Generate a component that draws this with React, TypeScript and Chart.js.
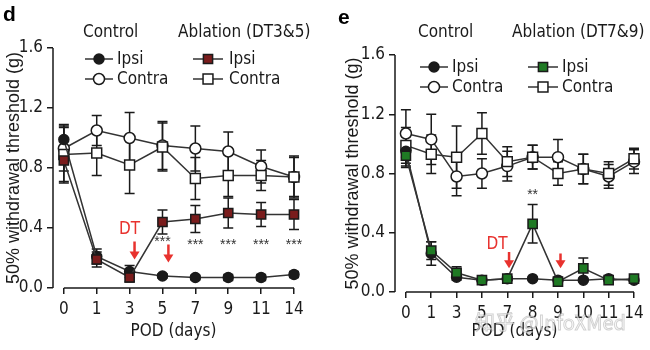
import React, { useEffect, useRef } from 'react';
import { Chart, registerables } from 'chart.js';
Chart.register(...registerables);

const NARROW = "'Liberation Sans Narrow', 'Arial Narrow', 'DejaVu Sans Condensed', sans-serif";
const REG = "'Liberation Sans', Arial, sans-serif";

// ---------- Panel d data ----------
const categoriesD = ['0', '1', '3', '5', '7', '9', '11', '14'];
const ctrlIpsiD = [0.99, 0.21, 0.11, 0.08, 0.07, 0.07, 0.07, 0.09];
const ctrlIpsiErrD = [0.1, 0.05, 0.04, 0.015, 0.015, 0.02, 0.02, 0.02];
const ctrlContraD = [0.93, 1.05, 1.0, 0.95, 0.93, 0.91, 0.81, 0.74];
const ctrlContraErrD = [0.15, 0.1, 0.17, 0.16, 0.15, 0.13, 0.11, 0.14];
const ablIpsiD = [0.85, 0.19, 0.07, 0.44, 0.46, 0.5, 0.49, 0.49];
const ablIpsiErrD = [0.15, 0.05, 0.03, 0.08, 0.09, 0.1, 0.08, 0.1];
const ablContraD = [0.89, 0.9, 0.82, 0.94, 0.73, 0.75, 0.75, 0.74];
const ablContraErrD = [0.18, 0.15, 0.19, 0.16, 0.14, 0.14, 0.1, 0.13];
const starsXD = [3, 4, 5, 6, 7];
const starsYD = [0.32, 0.3, 0.3, 0.3, 0.3];
const starsTextD = ['***', '***', '***', '***', '***'];
const dtLabelD = { x: 2.0, y: 0.39 };
const arrowsXD = [2.15, 3.18];
const arrowsTopD = [0.31, 0.29];
const arrowsBottomD = [0.19, 0.17];

// ---------- Panel e data ----------
const categoriesE = ['0', '1', '3', '5', '7', '8', '9', '10', '11', '14'];
const ctrlIpsiE = [0.95, 0.26, 0.1, 0.08, 0.09, 0.09, 0.08, 0.08, 0.09, 0.08];
const ctrlIpsiErrE = [0.1, 0.08, 0.02, 0.01, 0.01, 0.01, 0.01, 0.01, 0.01, 0.01];
const ctrlContraE = [1.07, 1.03, 0.78, 0.8, 0.85, 0.91, 0.91, 0.83, 0.78, 0.88];
const ctrlContraErrE = [0.16, 0.17, 0.13, 0.1, 0.1, 0.08, 0.12, 0.1, 0.08, 0.08];
const ablIpsiE = [0.92, 0.28, 0.13, 0.08, 0.09, 0.46, 0.07, 0.16, 0.08, 0.09];
const ablIpsiErrE = [0.08, 0.06, 0.04, 0.01, 0.01, 0.13, 0.01, 0.07, 0.01, 0.01];
const ablContraE = [0.99, 0.93, 0.91, 1.07, 0.88, 0.91, 0.8, 0.83, 0.8, 0.9];
const ablContraErrE = [0.12, 0.13, 0.21, 0.14, 0.1, 0.08, 0.08, 0.1, 0.08, 0.07];
const starsXE = [5];
const starsYE = [0.67];
const starsTextE = ['**'];
const dtLabelE = { x: 3.6, y: 0.32 };
const arrowsXE = [4.07, 6.1];
const arrowsTopE = [0.27, 0.26];
const arrowsBottomE = [0.16, 0.16];

const INK = '#1a1a1a';
const RED = '#e8322e';

function series(label: string, vals: number[], err: number[], style: any) {
  return {
    label,
    data: vals.map((v, i) => ({ x: i, y: v })),
    err,
    borderColor: '#333',
    borderWidth: 1.5,
    pointBorderColor: INK,
    pointBorderWidth: 1.5,
    pointHoverRadius: 0,
    clip: false,
    ...style,
  };
}

function drawMarker(ctx: CanvasRenderingContext2D, ds: any, x: number, y: number) {
  ctx.save();
  ctx.fillStyle = ds.pointBackgroundColor;
  ctx.strokeStyle = ds.pointBorderColor;
  ctx.lineWidth = ds.pointBorderWidth;
  ctx.beginPath();
  if (ds.pointStyle === 'rect') {
    const s = ds.pointRadius * Math.SQRT1_2;
    ctx.rect(x - s, y - s, 2 * s, 2 * s);
  } else {
    ctx.arc(x, y, ds.pointRadius, 0, Math.PI * 2);
  }
  ctx.fill();
  ctx.stroke();
  ctx.restore();
}

const panelPlugin = {
  id: 'panelDeco',
  beforeDatasetsDraw(chart: any) {
    const { ctx } = chart;
    const xs = chart.scales.x;
    const ys = chart.scales.y;
    ctx.save();
    ctx.strokeStyle = INK;
    ctx.lineWidth = 1.5;
    chart.data.datasets.forEach((ds: any) => {
      ds.data.forEach((p: any, i: number) => {
        const e = ds.err[i];
        const x = xs.getPixelForValue(p.x);
        const y1 = ys.getPixelForValue(p.y + e);
        const y2 = ys.getPixelForValue(p.y - e);
        ctx.beginPath();
        ctx.moveTo(x, y1);
        ctx.lineTo(x, y2);
        ctx.moveTo(x - 5, y1);
        ctx.lineTo(x + 5, y1);
        ctx.moveTo(x - 5, y2);
        ctx.lineTo(x + 5, y2);
        ctx.stroke();
      });
    });
    ctx.restore();
  },
  afterDraw(chart: any) {
    const { ctx, chartArea } = chart;
    const o = chart.options.plugins.panelDeco;
    const xs = chart.scales.x;
    const ys = chart.scales.y;
    ctx.save();
    // axis lines
    ctx.strokeStyle = INK;
    ctx.lineWidth = 1.5;
    ctx.beginPath();
    ctx.moveTo(chartArea.left, ys.getPixelForValue(0));
    ctx.lineTo(chartArea.left, ys.getPixelForValue(1.6));
    ctx.moveTo(xs.getPixelForValue(0), chartArea.bottom);
    ctx.lineTo(xs.getPixelForValue(o.cats.length - 1), chartArea.bottom);
    ctx.stroke();

    // panel letter
    ctx.fillStyle = '#000';
    ctx.font = `bold 21px ${REG}`;
    ctx.textAlign = 'left';
    ctx.textBaseline = 'alphabetic';
    ctx.fillText(o.letter, o.letterX, o.letterY);

    // legend
    ctx.font = `17px ${NARROW}`;
    ctx.fillStyle = INK;
    ctx.textBaseline = 'middle';
    o.headers.forEach((h: any) => ctx.fillText(h.text, h.x, h.y));
    o.entries.forEach((en: any) => {
      const ds = chart.data.datasets[en.ds];
      ctx.strokeStyle = '#333';
      ctx.lineWidth = 1.5;
      ctx.beginPath();
      ctx.moveTo(en.x1, en.y);
      ctx.lineTo(en.x2, en.y);
      ctx.stroke();
      drawMarker(ctx, ds, (en.x1 + en.x2) / 2, en.y);
      ctx.fillStyle = INK;
      ctx.fillText(ds.label, en.tx, en.y + 1);
    });

    // DT label
    ctx.fillStyle = RED;
    ctx.font = `17px ${NARROW}`;
    ctx.textAlign = 'center';
    ctx.fillText('DT', xs.getPixelForValue(o.dt.x), ys.getPixelForValue(o.dt.y));

    // arrows
    o.arrowsX.forEach((ax: number, i: number) => {
      const x = xs.getPixelForValue(ax);
      const yt = ys.getPixelForValue(o.arrowsTop[i]);
      const yb = ys.getPixelForValue(o.arrowsBottom[i]);
      ctx.strokeStyle = RED;
      ctx.lineWidth = 2.5;
      ctx.beginPath();
      ctx.moveTo(x, yt);
      ctx.lineTo(x, yb - 6);
      ctx.stroke();
      ctx.fillStyle = RED;
      ctx.beginPath();
      ctx.moveTo(x - 5, yb - 8);
      ctx.lineTo(x + 5, yb - 8);
      ctx.lineTo(x, yb);
      ctx.closePath();
      ctx.fill();
    });

    // significance stars
    ctx.fillStyle = '#333';
    ctx.font = `14px ${REG}`;
    ctx.textAlign = 'center';
    o.starsX.forEach((sx: number, i: number) => {
      ctx.fillText(o.starsText[i], xs.getPixelForValue(sx), ys.getPixelForValue(o.starsY[i]) + 2);
    });

    if (o.watermark) {
      ctx.font = `20px 'Noto Sans CJK SC', ${REG}`;
      ctx.textAlign = 'left';
      ctx.fillStyle = 'rgba(255,255,255,0.6)';
      ctx.strokeStyle = 'rgba(140,140,140,0.4)';
      ctx.lineWidth = 1;
      ctx.fillText(o.watermark, 150, 322);
      ctx.strokeText(o.watermark, 150, 322);
    }
    ctx.restore();
  },
};

function makeConfig(p: any) {
  const tickFont = { family: NARROW, size: 17 };
  return {
    type: 'line',
    data: {
      datasets: [
        series('Ipsi', p.ctrlIpsi, p.ctrlIpsiErr, {
          pointStyle: 'circle', pointRadius: 5, pointBackgroundColor: INK, order: 1,
        }),
        series('Contra', p.ctrlContra, p.ctrlContraErr, {
          pointStyle: 'circle', pointRadius: 5.5, pointBackgroundColor: '#fff', order: 3,
        }),
        series('Ipsi', p.ablIpsi, p.ablIpsiErr, {
          pointStyle: 'rect', pointRadius: 6.5, pointBackgroundColor: p.ablColor, order: 0,
        }),
        series('Contra', p.ablContra, p.ablContraErr, {
          pointStyle: 'rect', pointRadius: 7, pointBackgroundColor: '#fff', order: 2,
        }),
      ],
    },
    options: {
      animation: false,
      responsive: false,
      maintainAspectRatio: false,
      events: [],
      layout: { padding: { left: 0, top: p.top, right: p.right, bottom: 0 } },
      plugins: {
        legend: { display: false },
        tooltip: { enabled: false },
        panelDeco: p.deco,
      },
      scales: {
        x: {
          type: 'linear',
          min: p.xmin,
          max: p.cats.length - 1,
          afterFit: (s: any) => { s.height = 350 - p.bottom; },
          afterBuildTicks: (s: any) => { s.ticks = p.cats.map((_: string, i: number) => ({ value: i })); },
          ticks: {
            callback: (v: number) => p.cats[v],
            font: tickFont, color: INK, padding: 5, autoSkip: false, maxRotation: 0,
          },
          grid: { drawOnChartArea: false, drawTicks: true, tickLength: 6, color: INK, lineWidth: 1.5 },
          border: { display: false },
          title: { display: true, text: 'POD (days)', font: tickFont, color: INK, padding: { top: 0, bottom: 8 } },
        },
        y: {
          min: 0,
          max: 1.6,
          afterFit: (s: any) => { s.width = p.left; },
          ticks: {
            stepSize: 0.4,
            callback: (v: number) => v.toFixed(1),
            font: tickFont, color: INK, padding: 4,
          },
          grid: { drawOnChartArea: false, drawTicks: true, tickLength: 6, color: INK, lineWidth: 1.5 },
          border: { display: false },
          title: {
            display: true, text: '50% withdrawal threshold (g)',
            font: { family: REG, size: 18 }, color: INK, padding: { top: p.titlePad, bottom: 0 },
          },
        },
      },
    },
    plugins: [panelPlugin],
  };
}

const panelD = {
  cats: categoriesD,
  ctrlIpsi: ctrlIpsiD, ctrlIpsiErr: ctrlIpsiErrD,
  ctrlContra: ctrlContraD, ctrlContraErr: ctrlContraErrD,
  ablIpsi: ablIpsiD, ablIpsiErr: ablIpsiErrD,
  ablContra: ablContraD, ablContraErr: ablContraErrD,
  ablColor: '#7a1c1c',
  top: 48, bottom: 288, left: 53, right: 31, xmin: -0.33, titlePad: 3,
  deco: {
    cats: categoriesD,
    letter: 'd', letterX: 3, letterY: 21,
    headers: [{ text: 'Control', x: 83, y: 33 }, { text: 'Ablation (DT3&5)', x: 178, y: 33 }],
    entries: [
      { ds: 0, x1: 85, x2: 113, y: 59, tx: 117 },
      { ds: 1, x1: 85, x2: 113, y: 79, tx: 117 },
      { ds: 2, x1: 193, x2: 223, y: 59, tx: 229 },
      { ds: 3, x1: 193, x2: 223, y: 79, tx: 229 },
    ],
    dt: dtLabelD,
    arrowsX: arrowsXD, arrowsTop: arrowsTopD, arrowsBottom: arrowsBottomD,
    starsX: starsXD, starsY: starsYD, starsText: starsTextD,
    watermark: '',
  },
};

const panelE = {
  cats: categoriesE,
  ctrlIpsi: ctrlIpsiE, ctrlIpsiErr: ctrlIpsiErrE,
  ctrlContra: ctrlContraE, ctrlContraErr: ctrlContraErrE,
  ablIpsi: ablIpsiE, ablIpsiErr: ablIpsiErrE,
  ablContra: ablContraE, ablContraErr: ablContraErrE,
  ablColor: '#1f7a24',
  top: 55, bottom: 292, left: 70, right: 16, xmin: -0.43, titlePad: 17,
  deco: {
    cats: categoriesE,
    letter: 'e', letterX: 13, letterY: 24,
    headers: [{ text: 'Control', x: 93, y: 33 }, { text: 'Ablation (DT7&9)', x: 187, y: 33 }],
    entries: [
      { ds: 0, x1: 95, x2: 123, y: 67, tx: 127 },
      { ds: 1, x1: 95, x2: 123, y: 87, tx: 127 },
      { ds: 2, x1: 203, x2: 233, y: 67, tx: 237 },
      { ds: 3, x1: 203, x2: 233, y: 87, tx: 237 },
    ],
    dt: dtLabelE,
    arrowsX: arrowsXE, arrowsTop: arrowsTopE, arrowsBottom: arrowsBottomE,
    starsX: starsXE, starsY: starsYE, starsText: starsTextE,
    watermark: '知乎 @InfoXMed',
  },
};

function Panel({ cfg, left }: { cfg: any; left: number }) {
  const ref = useRef<HTMLCanvasElement | null>(null);
  useEffect(() => {
    if (!ref.current) return;
    const chart = new Chart(ref.current, makeConfig(cfg) as any);
    return () => chart.destroy();
  }, [cfg]);
  return (
    <canvas
      ref={ref}
      width={325}
      height={350}
      style={{ position: 'absolute', left, top: 0, width: 325, height: 350 }}
    />
  );
}

export default function App() {
  return (
    <div style={{ position: 'fixed', left: 0, top: 0, width: 650, height: 350, background: '#fff', overflow: 'hidden' }}>
      <Panel cfg={panelD} left={0} />
      <Panel cfg={panelE} left={325} />
    </div>
  );
}
